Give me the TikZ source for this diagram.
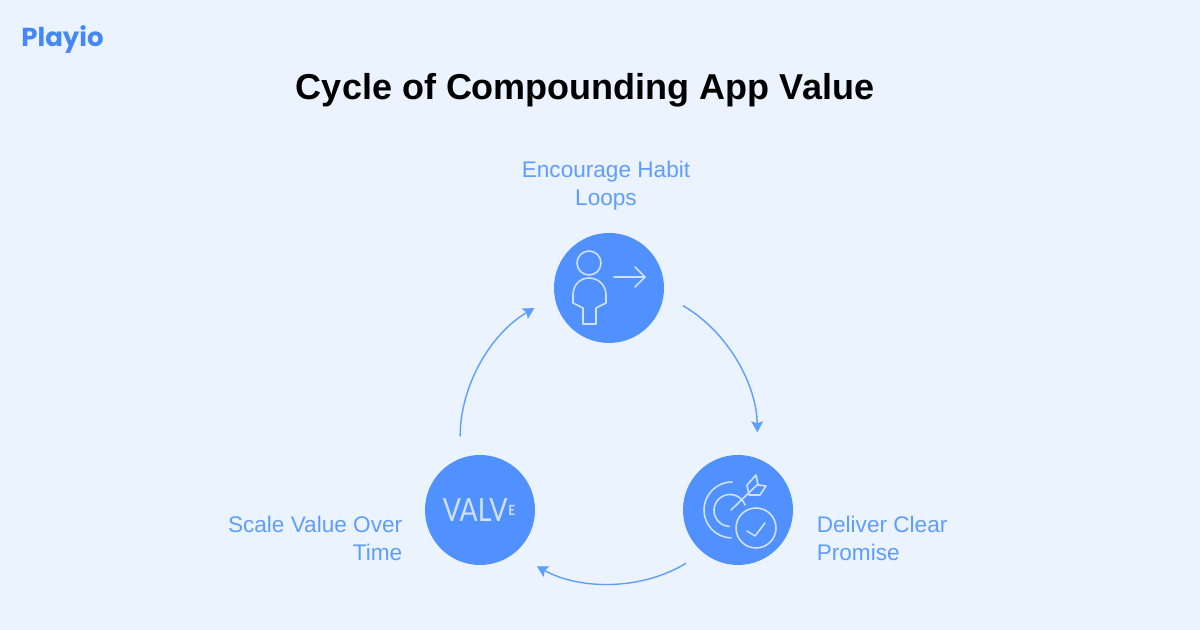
\documentclass[tikz,border=0pt]{standalone}
\usepackage{fontspec}
\setmainfont{Liberation Sans}
\newfontfamily\logofont{Poppins}
\newfontfamily\valvefont[FakeStretch=0.84]{Lato}
\usetikzlibrary{arrows.meta,positioning}
\definecolor{pagebg}{HTML}{EBF3FF}
\definecolor{discblue}{HTML}{5091FF}
\definecolor{labelblue}{HTML}{5F9DFF}
\definecolor{logoblue}{HTML}{4487FA}
\definecolor{iconline}{HTML}{CFE1FF}
\tikzset{
  disc/.style={circle,fill=discblue,minimum size=55pt,inner sep=0pt},
  steplabel/.style={text=labelblue,font=\fontsize{11.3}{14}\selectfont,inner sep=0pt},
  flow/.style={draw=labelblue,line width=0.7pt,-{Stealth[length=5.5pt,width=6pt,inset=1pt]},looseness=1},
  icon/.style={draw=iconline,line width=0.8pt,line join=round,line cap=round},
}
\begin{document}
\begin{tikzpicture}[x=0.5pt,y=0.5pt]
      \useasboundingbox[fill=pagebg] (0,0) rectangle (1200,630);
      \node[anchor=west,inner sep=0pt,text=logoblue,font=\logofont\bfseries\fontsize{13}{13}\selectfont] (logo) at (21,590) {Playio};
      \node[inner sep=0pt,font=\bfseries\fontsize{18}{18}\selectfont,text=black] (title) at (585,540) {Cycle of Compounding App Value};
      % discs
      \node[disc] (habit) at (609,342) {};
      \node[disc] (promise) at (738,120) {};
      \node[disc] (scale) at (480,120) {};
      % labels
      \node[steplabel,align=center,above=11pt of habit,xshift=-1.5pt] (habitlabel) {Encourage Habit\\Loops};
      \node[steplabel,align=left,right=11.5pt of promise,yshift=-14pt] (promiselabel) {Deliver Clear\\Promise};
      \node[steplabel,align=right,left=11pt of scale,yshift=-14pt] (scalelabel) {Scale Value Over\\Time};
      % connectors
      \draw[flow,shorten <=22pt/2,shorten >=26pt/2] (habit.-7) to[out=-30,in=91] (promise.69);
      \draw[flow,shorten <=20pt/2,shorten >=26pt/2] (promise.231) to[out=211,in=-29] (scale.-52);
      \draw[flow,shorten <=22pt/2,shorten >=23pt/2] (scale.111) to[out=90,in=210] (habit.189);
      % person icon
      \begin{scope}[shift={(habit.center)}]
        \draw[icon] (-20,25) circle (12);
        \draw[icon] (-26,-36) -- (-26,-20) -- (-36,-15) -- (-36,-7) .. controls (-36,3) and (-29,10) .. (-20,10)
          .. controls (-11,10) and (-3,3) .. (-3,-7) -- (-3,-15) -- (-13,-20) -- (-13,-36) -- cycle;
        \draw[icon] (5,11) -- (36,11);
        \draw[icon] (26,21) -- (36,11) -- (26,1);
      \end{scope}
      % target icon
      \begin{scope}[shift={(promise.center)}]
        \draw[icon] (-6,28) arc[start angle=90,end angle=268,radius=28];
        \draw[icon] (7,5) arc[start angle=20,end angle=268,radius=16];
        \draw[icon] (-7,0) -- (20,26);
        \draw[icon] (18,35) -- (9,25) -- (11,15) -- (22,15) -- (28,24) -- (20,25) -- cycle;
        \draw[icon] (18,-18) circle (20);
        \draw[icon] (9,-21) -- (17,-26) -- (27,-13);
      \end{scope}
      % value icon
      \node[inner sep=0pt,text=iconline,font=\valvefont\fontsize{16}{16}\selectfont,xshift=-0.5pt] (valve) at (scale.center) {VALV\raisebox{3pt}{\kern0.5pt\bfseries\fontsize{7}{7}\selectfont E}};
\end{tikzpicture}
\end{document}
